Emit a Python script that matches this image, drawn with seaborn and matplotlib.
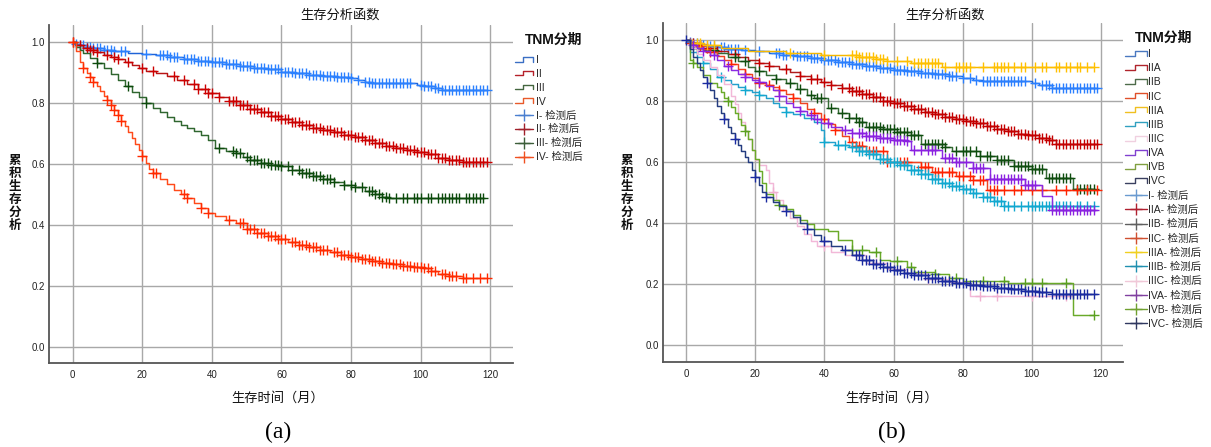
import numpy as np
import matplotlib
matplotlib.use("Agg")
import matplotlib.pyplot as plt
import seaborn as sns
from matplotlib.lines import Line2D
from matplotlib.legend_handler import HandlerBase

# --------------- data --------------- #
# (a) TNM stage I-IV : step knots (time, survival) and censor times
A_I_T = [0, 1, 2, 4, 6, 9, 12, 16, 20, 24, 28, 32, 36, 40, 44, 48, 52, 56, 60, 64, 68, 72, 76, 80, 82, 84, 86, 99, 101, 104, 106, 119]
A_I_S = [1.0, 0.995, 0.99, 0.985, 0.98, 0.975, 0.97, 0.966, 0.962, 0.958, 0.952, 0.946, 0.94, 0.935, 0.928, 0.922, 0.917, 0.911, 0.904, 0.898, 0.893, 0.889, 0.886, 0.882, 0.876, 0.87, 0.866, 0.86, 0.855, 0.85, 0.843, 0.843]
A_I_C = [1, 2, 3, 4, 5, 6, 7, 8, 9, 10, 11, 12, 14, 15, 21, 25, 26, 27, 28, 29, 30, 32, 33, 34, 35, 36, 37, 38, 39, 40, 41, 42, 43, 44, 45, 46, 47, 48, 49, 50,
         51, 52, 53, 54, 55, 56, 57, 58, 59, 60, 61, 62, 63, 64, 65, 66, 67, 68, 69, 70, 71, 72, 73, 74, 75, 76, 77, 78, 79, 80, 82, 84, 85, 86, 87, 88,
         89, 90, 91, 92, 93, 94, 95, 96, 97, 100, 101, 102, 103, 104, 105, 106, 107, 108, 109, 110, 111, 112, 113, 114, 115, 116, 117, 118, 119]

A_II_T = [0, 1, 3, 5, 7, 9, 11, 13, 15, 17, 19, 21, 24, 27, 30, 33, 36, 39, 42, 45, 48, 51, 54, 57, 60, 63, 66, 69, 72, 75, 78, 81, 84, 87, 90, 93, 96, 99, 102, 105, 108, 112, 119]
A_II_S = [1.0, 0.99, 0.983, 0.975, 0.968, 0.96, 0.952, 0.944, 0.935, 0.925, 0.915, 0.907, 0.9, 0.89, 0.877, 0.862, 0.848, 0.834, 0.82, 0.808, 0.795, 0.782, 0.77, 0.758, 0.747, 0.738, 0.73, 0.72, 0.712, 0.705, 0.697, 0.688, 0.678, 0.668, 0.66, 0.652, 0.645, 0.638, 0.632, 0.62, 0.612, 0.606, 0.606]
A_II_C = [0, 2, 4, 5, 6, 7, 10, 12, 13, 16, 20, 23, 29, 32, 35, 36, 38, 39, 40, 42, 45, 46, 47, 48, 49, 50, 51, 52, 53, 54, 55, 56, 57, 58, 59, 60, 61, 62, 63,
          64, 65, 66, 67, 68, 69, 70, 71, 72, 73, 74, 75, 76, 77, 78, 79, 80, 81, 82, 83, 84, 85, 86, 87, 88, 89, 90, 91, 92, 93, 94, 95, 96, 97, 98, 99,
          100, 101, 102, 103, 104, 105, 106, 107, 108, 109, 110, 111, 112, 113, 114, 115, 116, 117, 118, 119]

A_III_T = [0, 1, 2, 3, 5, 7, 9, 11, 13, 15, 17, 19, 21, 23, 25, 27, 29, 31, 33, 35, 37, 39, 41, 44, 47, 49, 51, 54, 57, 60, 63, 66, 69, 72, 75, 78, 81, 84, 87, 89, 91, 118]
A_III_S = [1.0, 0.985, 0.975, 0.965, 0.948, 0.932, 0.915, 0.895, 0.875, 0.855, 0.838, 0.82, 0.8, 0.785, 0.77, 0.755, 0.74, 0.73, 0.718, 0.708, 0.695, 0.68, 0.652, 0.642, 0.637, 0.622, 0.612, 0.603, 0.597, 0.592, 0.582, 0.572, 0.562, 0.552, 0.542, 0.532, 0.523, 0.512, 0.5, 0.493, 0.487, 0.487]
A_III_C = [7, 16, 21, 42, 46, 47, 48, 50, 51, 52, 53, 54, 55, 56, 57, 58, 59, 60, 62, 63, 65, 66, 67, 68, 69, 70, 71, 72, 73, 74, 75, 78, 80, 81, 83, 85, 86,
           87, 88, 89, 90, 91, 93, 95, 96, 98, 99, 100, 102, 103, 105, 106, 107, 108, 109, 110, 111, 113, 114, 115, 116, 117, 118]

A_IV_T = [0, 1, 2, 3, 4, 5, 6, 7, 8, 9, 10, 11, 12, 13, 14, 15, 16, 17, 18, 19, 20, 21, 22, 23, 25, 27, 29, 31, 33, 35, 37, 39, 41, 44, 47, 50, 53, 56, 59,
          62, 65, 68, 71, 74, 77, 80, 83, 86, 89, 92, 95, 98, 101, 103, 105, 108, 112, 119]
A_IV_S = [1.0, 0.97, 0.935, 0.915, 0.9, 0.885, 0.87, 0.855, 0.84, 0.825, 0.81, 0.795, 0.778, 0.76, 0.742, 0.725, 0.705, 0.685, 0.665, 0.645, 0.625, 0.605,
          0.585, 0.57, 0.55, 0.535, 0.515, 0.5, 0.487, 0.472, 0.457, 0.44, 0.43, 0.417, 0.405, 0.388, 0.375, 0.365, 0.355, 0.345, 0.335, 0.327, 0.318, 0.31,
          0.302, 0.294, 0.287, 0.28, 0.274, 0.27, 0.266, 0.263, 0.258, 0.25, 0.24, 0.232, 0.226, 0.226]
A_IV_C = [0, 3, 5, 6, 10, 11, 12, 13, 14, 20, 23, 24, 32, 33, 37, 39, 45, 48, 49, 50, 51, 52, 53, 54, 55, 56, 57, 58, 59, 60, 61, 63, 64, 65, 66, 67, 68,
          69, 70, 71, 72, 73, 75, 76, 77, 78, 79, 80, 81, 82, 83, 84, 85, 86, 87, 88, 89, 90, 91, 92, 93, 94, 95, 96, 97, 98, 99, 100, 101, 102, 103, 104,
          106, 107, 108, 109, 110, 112, 113, 115, 117, 119]

A_LABELS = ["I", "II", "III", "IV"]

# (b) TNM sub-stages
B_I_T = [0, 1, 2, 4, 6, 9, 12, 16, 20, 24, 28, 32, 36, 40, 44, 48, 52, 56, 60, 64, 68, 72, 76, 80, 83, 86, 100, 102, 106, 119]
B_I_S = [1.0, 0.995, 0.99, 0.985, 0.98, 0.976, 0.972, 0.967, 0.963, 0.958, 0.952, 0.946, 0.94, 0.934, 0.928, 0.922, 0.916, 0.909, 0.902, 0.897, 0.892, 0.888, 0.883, 0.876, 0.87, 0.864, 0.858, 0.852, 0.843, 0.843]
B_I_C = [1, 2, 3, 4, 5, 6, 7, 8, 10, 11, 12, 13, 14, 15, 17, 21, 26, 27, 28, 29, 31, 32, 33, 34, 35, 36, 37, 38, 39, 40, 41, 42, 43, 44, 45, 46, 47, 48,
         49, 50, 51, 52, 53, 54, 55, 56, 57, 58, 59, 60, 61, 62, 63, 64, 65, 66, 67, 68, 69, 70, 71, 72, 73, 74, 75, 76, 77, 78, 80, 82, 84, 86, 87, 88,
         89, 90, 91, 92, 93, 94, 95, 96, 97, 98, 101, 103, 104, 105, 106, 107, 108, 109, 110, 111, 112, 113, 114, 115, 116, 117, 118, 119]

B_IIA_T = [0, 1, 3, 6, 9, 12, 15, 18, 21, 24, 27, 30, 33, 36, 39, 42, 45, 48, 51, 54, 57, 60, 63, 66, 69, 72, 75, 78, 81, 84, 87, 90, 93, 96, 99, 102, 105, 107, 119]
B_IIA_S = [1.0, 0.99, 0.983, 0.975, 0.965, 0.955, 0.945, 0.935, 0.925, 0.915, 0.905, 0.895, 0.883, 0.872, 0.862, 0.853, 0.843, 0.833, 0.823, 0.812, 0.8,
           0.792, 0.783, 0.774, 0.765, 0.757, 0.749, 0.742, 0.735, 0.727, 0.718, 0.708, 0.7, 0.693, 0.687, 0.68, 0.672, 0.66, 0.66]
B_IIA_C = [2, 4, 6, 9, 14, 21, 24, 29, 33, 36, 38, 40, 42, 45, 47, 48, 49, 50, 51, 52, 53, 54, 55, 56, 57, 58, 59, 60, 61, 62, 63, 64, 65, 66, 67, 68, 69,
           70, 71, 72, 73, 74, 75, 76, 77, 78, 79, 80, 81, 82, 83, 84, 85, 86, 87, 88, 89, 90, 91, 92, 93, 94, 95, 96, 97, 98, 99, 100, 101, 102, 103,
           104, 105, 106, 107, 108, 109, 110, 111, 112, 113, 114, 115, 116, 117, 118, 119]

B_IIB_T = [0, 1, 5, 9, 12, 15, 18, 20, 23, 26, 29, 32, 35, 37, 41, 44, 47, 50, 52, 57, 61, 65, 68, 75, 77, 85, 90, 95, 100, 104, 112, 118]
B_IIB_S = [1.0, 0.975, 0.968, 0.958, 0.945, 0.93, 0.91, 0.897, 0.885, 0.872, 0.86, 0.84, 0.818, 0.81, 0.778, 0.76, 0.745, 0.73, 0.715, 0.708, 0.698,
           0.688, 0.66, 0.65, 0.635, 0.62, 0.607, 0.587, 0.578, 0.548, 0.51, 0.51]
B_IIB_C = [3, 8, 14, 17, 21, 26, 30, 33, 36, 38, 39, 42, 45, 47, 49, 50, 51, 53, 54, 55, 56, 57, 58, 59, 60, 61, 62, 63, 64, 65, 66, 67, 69, 70, 71, 72,
           73, 74, 75, 78, 80, 81, 82, 84, 85, 87, 88, 90, 91, 92, 93, 95, 96, 97, 98, 99, 100, 101, 102, 103, 105, 106, 107, 108, 109, 110, 111, 113,
           114, 115, 116, 117, 118]

B_IIC_T = [0, 1, 3, 5, 7, 9, 11, 13, 15, 17, 19, 21, 23, 25, 27, 29, 31, 33, 35, 37, 39, 41, 43, 45, 47, 49, 52, 58, 68, 71, 78, 83, 87, 119]
B_IIC_S = [1.0, 0.99, 0.98, 0.972, 0.96, 0.948, 0.935, 0.92, 0.905, 0.89, 0.875, 0.86, 0.852, 0.845, 0.835, 0.822, 0.81, 0.795, 0.775, 0.76, 0.74,
           0.725, 0.705, 0.685, 0.665, 0.652, 0.637, 0.6, 0.585, 0.568, 0.553, 0.542, 0.508, 0.508]
B_IIC_C = [1, 4, 7, 13, 17, 21, 24, 27, 31, 37, 40, 43, 48, 49, 50, 51, 53, 54, 55, 57, 58, 62, 63, 64, 68, 69, 70, 72, 73, 74, 76, 77, 79, 80, 82, 83,
           85, 86, 88, 89, 90, 92, 95, 97, 100, 103, 107, 110, 113, 116, 119]

B_IIIA_T = [0, 2, 5, 10, 18, 29, 39, 50, 55, 58, 65, 74, 118]
B_IIIA_S = [1.0, 0.99, 0.985, 0.975, 0.965, 0.958, 0.951, 0.943, 0.937, 0.932, 0.926, 0.91, 0.91]
B_IIIA_C = [3, 4, 6, 8, 30, 40, 48, 49, 50, 51, 52, 53, 54, 55, 56, 57, 58, 61, 64, 66, 67, 68, 69, 70, 71, 72, 73, 75, 78, 79, 80, 81, 82, 86, 89, 90,
            91, 92, 93, 95, 97, 98, 101, 103, 104, 107, 108, 110, 111, 113, 114, 116, 118]

B_IIIB_T = [0, 1, 3, 5, 7, 9, 11, 13, 15, 17, 19, 21, 23, 25, 27, 29, 31, 34, 37, 39, 40, 43, 47, 50, 53, 56, 59, 62, 65, 68, 71, 74, 77, 80, 83, 86, 89, 92, 118]
B_IIIB_S = [1.0, 0.96, 0.945, 0.925, 0.905, 0.88, 0.87, 0.857, 0.845, 0.835, 0.828, 0.82, 0.81, 0.795, 0.78, 0.765, 0.758, 0.745, 0.73, 0.705, 0.665,
            0.655, 0.648, 0.635, 0.625, 0.61, 0.6, 0.59, 0.575, 0.56, 0.545, 0.532, 0.522, 0.51, 0.497, 0.485, 0.472, 0.455, 0.455]
B_IIIB_C = [5, 10, 17, 21, 29, 40, 44, 46, 48, 49, 50, 51, 52, 53, 54, 55, 56, 57, 58, 59, 60, 61, 62, 63, 64, 65, 66, 67, 68, 69, 70, 71, 72, 73, 74,
            75, 76, 77, 78, 79, 80, 81, 82, 83, 84, 86, 87, 88, 89, 90, 91, 92, 93, 95, 97, 99, 100, 101, 102, 103, 104, 105, 106, 107, 108, 109, 110,
            111, 113, 114, 116, 118]

B_IIIC_T = [0, 1, 3, 5, 7, 9, 11, 13, 14, 15, 16, 17, 18, 19, 20, 21, 23, 24, 25, 26, 28, 30, 32, 34, 36, 38, 42, 46, 52, 58, 64, 70, 76, 82, 112]
B_IIIC_S = [1.0, 0.975, 0.955, 0.935, 0.91, 0.885, 0.855, 0.815, 0.79, 0.76, 0.73, 0.7, 0.675, 0.64, 0.605, 0.59, 0.575, 0.53, 0.5, 0.475, 0.44, 0.415,
            0.39, 0.365, 0.34, 0.323, 0.305, 0.295, 0.27, 0.25, 0.235, 0.215, 0.205, 0.159, 0.155]
B_IIIC_C = [25, 40, 50, 55, 70, 85, 90, 100, 110]

B_IVA_T = [0, 1, 3, 5, 7, 9, 11, 13, 15, 17, 19, 21, 23, 25, 27, 29, 31, 33, 35, 37, 39, 42, 45, 48, 52, 56, 60, 64, 65, 74, 78, 83, 88, 98, 103, 106, 119]
B_IVA_S = [1.0, 0.985, 0.975, 0.965, 0.95, 0.935, 0.915, 0.9, 0.89, 0.88, 0.87, 0.862, 0.85, 0.835, 0.815, 0.795, 0.78, 0.768, 0.755, 0.74, 0.728,
           0.715, 0.705, 0.694, 0.685, 0.678, 0.673, 0.668, 0.639, 0.612, 0.6, 0.58, 0.543, 0.526, 0.488, 0.442, 0.442]
B_IVA_C = [2, 5, 8, 12, 17, 21, 27, 33, 36, 38, 41, 46, 48, 50, 51, 52, 53, 54, 55, 56, 57, 58, 59, 60, 61, 62, 63, 64, 66, 68, 70, 71, 72, 75, 76, 77,
           78, 79, 81, 83, 84, 85, 86, 88, 89, 90, 91, 92, 93, 94, 95, 96, 97, 98, 99, 100, 101, 106, 107, 108, 109, 110, 111, 112, 113, 114, 115, 116,
           117, 118]

B_IVB_T = [0, 1, 2, 3, 5, 7, 9, 10, 11, 12, 13, 14, 15, 16, 17, 18, 19, 20, 21, 22, 23, 25, 27, 29, 31, 33, 35, 37, 41, 44, 48, 53, 56, 59, 64, 66, 72, 76, 80, 93, 112, 118]
B_IVB_S = [1.0, 0.935, 0.925, 0.91, 0.885, 0.86, 0.845, 0.83, 0.81, 0.8, 0.78, 0.76, 0.74, 0.72, 0.7, 0.675, 0.64, 0.61, 0.57, 0.53, 0.495, 0.475, 0.46,
           0.445, 0.425, 0.41, 0.395, 0.38, 0.375, 0.345, 0.31, 0.305, 0.28, 0.275, 0.257, 0.24, 0.232, 0.219, 0.21, 0.203, 0.099, 0.099]
B_IVB_C = [2, 12, 17, 27, 48, 51, 55, 61, 65, 72, 78, 86, 92, 98, 100, 103, 110, 118]

B_IVC_T = [0, 1, 2, 3, 4, 5, 6, 7, 8, 9, 10, 11, 12, 13, 14, 15, 16, 17, 18, 19, 20, 21, 22, 23, 25, 27, 29, 31, 33, 35, 37, 39, 42, 45, 48, 51, 54, 57,
           60, 63, 66, 70, 74, 78, 82, 86, 90, 94, 98, 102, 106, 119]
B_IVC_S = [1.0, 0.97, 0.945, 0.925, 0.9, 0.88, 0.86, 0.835, 0.81, 0.785, 0.76, 0.74, 0.715, 0.695, 0.675, 0.655, 0.635, 0.615, 0.6, 0.575, 0.55, 0.525,
           0.5, 0.485, 0.468, 0.455, 0.44, 0.42, 0.4, 0.38, 0.36, 0.34, 0.325, 0.31, 0.295, 0.28, 0.265, 0.255, 0.245, 0.237, 0.228, 0.218, 0.21, 0.203,
           0.197, 0.192, 0.187, 0.183, 0.178, 0.174, 0.168, 0.168]
B_IVC_C = [0, 6, 11, 14, 20, 23, 29, 35, 40, 46, 49, 50, 51, 52, 53, 54, 55, 56, 57, 58, 59, 60, 61, 62, 63, 64, 65, 66, 67, 68, 69, 70, 71, 72, 73, 74,
           75, 76, 77, 78, 79, 80, 81, 82, 83, 84, 85, 86, 87, 88, 89, 90, 91, 92, 93, 94, 95, 96, 97, 98, 99, 100, 101, 102, 103, 104, 106, 107, 108,
           109, 110, 111, 112, 113, 114, 115, 116, 118]

B_LABELS = ["I", "IIA", "IIB", "IIC", "IIIA", "IIIB", "IIIC", "IVA", "IVB", "IVC"]

# colours: curve line, censor mark, legend step icon, legend censor icon
A_LINE = ["#1f63d6", "#b81414", "#2f662f", "#ff4a1a"]
A_CENS = ["#2a80ff", "#cc0000", "#0c4a0c", "#ff2a00"]
A_LEG_STEP = ["#3b6fc4", "#b5212a", "#44663f", "#e85a2a"]
A_LEG_CENS = ["#4a7fd0", "#a0202a", "#3d5e3a", "#f05020"]

B_LINE = ["#1a66d9", "#b01c1c", "#356b35", "#ee4422", "#f5b800", "#22a0cc", "#f2b8d8", "#8a2be2", "#6aaa2a", "#243c80"]
B_CENS = ["#2a7fff", "#c40000", "#0f4d0f", "#ff2200", "#ffc000", "#10a8d0", "#f0b0d0", "#8a20e0", "#5aa020", "#1a2aa0"]
B_LEG_STEP = ["#4a78c0", "#b0242c", "#4d6b4a", "#e0502a", "#f0c020", "#30a0c0", "#f0d0e0", "#8040d0", "#80a040", "#3a4060"]
B_LEG_CENS = ["#6a9ad0", "#b02030", "#606060", "#d05030", "#f0d020", "#2090b0", "#f0c8d8", "#8040a0", "#70a030", "#303860"]

A_CURVES = [(A_I_T, A_I_S, A_I_C), (A_II_T, A_II_S, A_II_C), (A_III_T, A_III_S, A_III_C), (A_IV_T, A_IV_S, A_IV_C)]
B_CURVES = [(B_I_T, B_I_S, B_I_C), (B_IIA_T, B_IIA_S, B_IIA_C), (B_IIB_T, B_IIB_S, B_IIB_C), (B_IIC_T, B_IIC_S, B_IIC_C),
            (B_IIIA_T, B_IIIA_S, B_IIIA_C), (B_IIIB_T, B_IIIB_S, B_IIIB_C), (B_IIIC_T, B_IIIC_S, B_IIIC_C),
            (B_IVA_T, B_IVA_S, B_IVA_C), (B_IVB_T, B_IVB_S, B_IVB_C), (B_IVC_T, B_IVC_S, B_IVC_C)]

# --------------- style --------------- #
sns.set_theme(style="white")
plt.rcParams["font.family"] = ["Liberation Sans", "Noto Sans CJK SC", "DejaVu Sans"]
CJK = ["Noto Sans CJK SC", "DejaVu Sans"]


class StepIcon(Line2D):
    pass


class StepHandler(HandlerBase):
    # the little "_|‾|" icon SPSS uses for survival functions
    def create_artists(self, legend, orig_handle, xdescent, ydescent,
                       width, height, fontsize, trans):
        x0, y0 = -xdescent, -ydescent
        lo, hi = y0 + 0.2 * height, y0 + 0.85 * height
        xm = x0 + 0.45 * width
        line = Line2D([x0, xm, xm, x0 + width, x0 + width], [lo, lo, hi, hi, lo],
                      color=orig_handle.get_color(), lw=1.0, transform=trans)
        return [line]


def surv_at(t, s, c):
    idx = np.searchsorted(np.asarray(t), np.asarray(c), side="right") - 1
    return np.asarray(s)[np.clip(idx, 0, len(s) - 1)]


def km_panel(fig, rect, curves, labels, line_c, cens_c, leg_step, leg_cens,
             leg_xy, title_xy, hlen, hpad, lspace):
    ax = fig.add_axes(rect)
    for (t, s, c), lc, cc in zip(curves, line_c, cens_c):
        sns.lineplot(x=t, y=s, drawstyle="steps-post", color=lc, lw=1.05,
                     estimator=None, sort=False, ax=ax, legend=False)
        ax.plot(c, surv_at(t, s, c), ls="none", marker="+", ms=7, mew=1.0, color=cc)

    ax.set_xlim(-6.7, 126.5)
    ax.set_ylim(-0.055, 1.057)
    ax.set_xticks(range(0, 121, 20))
    ax.set_yticks([0.0, 0.2, 0.4, 0.6, 0.8, 1.0])
    ax.set_yticklabels(["0.0", "0.2", "0.4", "0.6", "0.8", "1.0"])
    ax.tick_params(axis="both", length=0, labelsize=7, colors="#222222")
    ax.tick_params(axis="x", pad=5)
    ax.tick_params(axis="y", pad=3)
    ax.grid(True, color="#a8a8a8", lw=1.0)
    ax.set_axisbelow(True)
    for side in ["top", "right"]:
        ax.spines[side].set_visible(False)
    for side in ["left", "bottom"]:
        ax.spines[side].set_color("#555555")
        ax.spines[side].set_linewidth(1.3)
    ax.set_xlabel("")
    ax.set_ylabel("")

    handles = [StepIcon([], [], color=c) for c in leg_step]
    handles += [Line2D([0], [0], color=c, lw=1.0, marker="+", ms=9, mew=1.0) for c in leg_cens]
    names = list(labels) + [lab + "- 检测后" for lab in labels]
    ax.legend(handles, names, loc="upper left", bbox_to_anchor=leg_xy,
              bbox_transform=fig.transFigure, frameon=False, fontsize=7.5,
              handlelength=hlen, handletextpad=hpad,
              labelspacing=lspace, borderpad=0, borderaxespad=0, numpoints=1,
              handler_map={StepIcon: StepHandler()})
    fig.text(title_xy[0], title_xy[1], "TNM分期", ha="left", va="center",
             fontsize=10, weight="bold", color="#111111")
    return ax


W, H = 1211, 447
fig = plt.figure(figsize=(W / 100, H / 100), dpi=100)

km_panel(fig, [0.0407, 0.1872, 0.3829, 0.7568], A_CURVES, A_LABELS,
         A_LINE, A_CENS, A_LEG_STEP, A_LEG_CENS,
         (515 / W, 1 - 55 / H), (525 / W, 1 - 40 / H), 1.75, 0.3, 0.37)
km_panel(fig, [0.5475, 0.1908, 0.3801, 0.7586], B_CURVES, B_LABELS,
         B_LINE, B_CENS, B_LEG_STEP, B_LEG_CENS,
         (1125 / W, 1 - 49 / H), (1135 / W, 1 - 38 / H), 2.1, 0.15, 0.4)

# titles, axis labels and panel tags
for xc, xt, xl, tag in [(340, 15, 278, "(a)"), (945, 627, 892, "(b)")]:
    fig.text(xc / W, 1 - 15 / H, "生存分析函数", ha="center", va="center",
             fontsize=9.5, family=CJK, color="#111111")
    fig.text(xt / W, 1 - 193 / H, "\n".join("累积生存分析"), ha="center", va="center",
             fontsize=9, family=CJK, weight="bold", linespacing=1.0, color="#111111")
    fig.text(xl / W, 1 - 398 / H, "生存时间（月）", ha="center", va="center",
             fontsize=9.5, family=CJK, color="#111111")
    fig.text(xl / W, 1 - 432 / H, tag, ha="center", va="center",
             fontsize=17, family=["Liberation Serif"], color="black")

fig.savefig("out.png", dpi=100)
